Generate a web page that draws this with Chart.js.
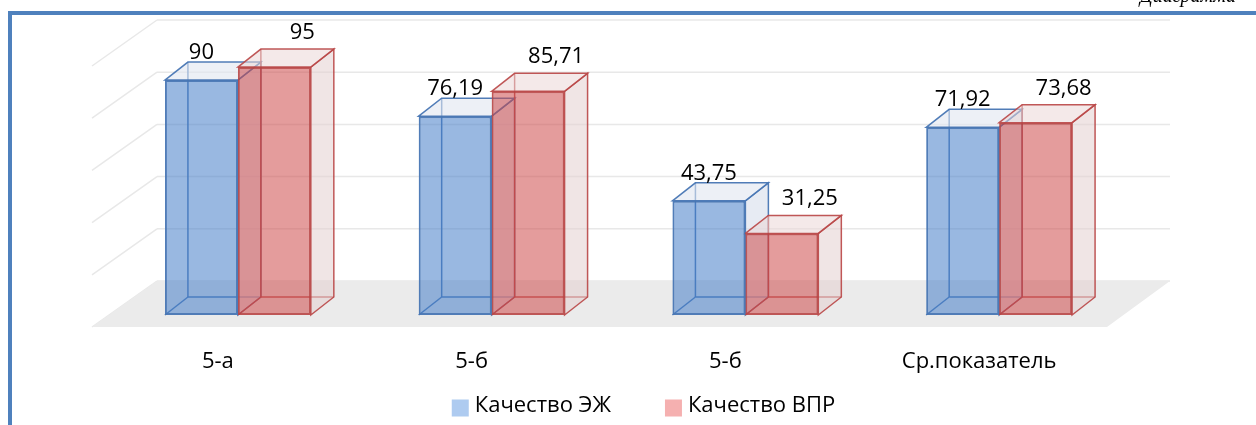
<!DOCTYPE html>
<html>
<head>
<meta charset="utf-8">
<script src="https://cdn.jsdelivr.net/npm/chart.js@4"></script>
<style>
html, body { margin: 0; padding: 0; background: #fff; overflow: hidden; }
#wrap { position: relative; width: 1256px; height: 425px; }
#frame { position: absolute; left: 8px; top: 11px; right: 0; bottom: 0; border-left: 4px solid #4f81bd; border-top: 4px solid #4f81bd; }
#cap { position: absolute; left: 1140px; top: -15px; font: italic 20px "Liberation Serif"; line-height: 20px; white-space: nowrap; }
canvas { position: absolute; left: 0; top: 0; }
</style>
</head>
<body>
<div id="wrap">
  <canvas id="barChart" width="1256" height="425"></canvas>
  <div id="frame"></div>
  <div id="cap">Диаграмма</div>
</div>
<script>
// data
var categories = ['5-а', '5-б', '5-б', 'Ср.показатель'];
var seriesNames = ['Качество ЭЖ', 'Качество ВПР'];
var qualityEJ = [90, 76.19, 43.75, 71.92];
var qualityVPR = [95, 85.71, 31.25, 73.68];
var yTicks = [0, 20, 40, 60, 80, 100];

// look
var FONT = '"Open Sans", sans-serif';
var BAR_DEPTH = { dx: 23, dy: -18 };
var WALL = { dx: 46, dy: -34, side: 65, drop: 46 };
var styles = [
    { fill: 'rgba(70,125,200,0.55)', border: 'rgba(72,118,180,0.95)', top: 'rgba(225,230,240,0.6)', side: 'rgba(215,222,235,0.6)', legend: '#aecbf0' },
    { fill: 'rgba(205,75,75,0.55)', border: 'rgba(185,70,70,0.9)', top: 'rgba(235,215,215,0.55)', side: 'rgba(228,208,208,0.55)', legend: '#f5b0b0' }
];

function fmt(v) {
    return String(v).replace('.', ',');
}

function poly(ctx, pts, fill, stroke) {
    ctx.beginPath();
    ctx.moveTo(pts[0][0], pts[0][1]);
    for (var i = 1; i < pts.length; i++) ctx.lineTo(pts[i][0], pts[i][1]);
    ctx.closePath();
    if (fill) { ctx.fillStyle = fill; ctx.fill(); }
    if (stroke) { ctx.strokeStyle = stroke; ctx.stroke(); }
}

function line(ctx, x1, y1, x2, y2, color) {
    ctx.beginPath();
    ctx.moveTo(x1, y1);
    ctx.lineTo(x2, y2);
    ctx.strokeStyle = color;
    ctx.stroke();
}

var scene3d = {
    id: 'scene3d',
    beforeDatasetsDraw: function (chart) {
        var ctx = chart.ctx, a = chart.chartArea, y = chart.scales.y;
        var backL = a.left + WALL.dx, backR = a.right + 44;
        ctx.save();
        // walls gridlines
        ctx.lineWidth = 1.5;
        yTicks.forEach(function (t) {
            var yb = y.getPixelForValue(t) + WALL.dy;
            line(ctx, backL, yb, backR, yb, '#e8e8e8');
            line(ctx, backL - WALL.side, yb + WALL.drop, backL, yb, '#e8e8e8');
        });
        // floor
        var y0 = y.getPixelForValue(0) + WALL.dy;
        poly(ctx, [[backL, y0], [backR, y0], [backR - 63, y0 + WALL.drop], [backL - WALL.side, y0 + WALL.drop]], '#ebebeb');

        // hidden parts of the boxes
        ctx.lineWidth = 1.5;
        var dx = BAR_DEPTH.dx, dy = BAR_DEPTH.dy;
        for (var j = 0; j < categories.length; j++) {
            for (var i = 0; i < chart.data.datasets.length; i++) {
                var bar = chart.getDatasetMeta(i).data[j];
                var s = styles[i];
                var x0 = bar.x - bar.width / 2, x1 = bar.x + bar.width / 2;
                var yt = bar.y, yb = bar.base;
                line(ctx, x0 + dx, yt + dy, x0 + dx, yb + dy, s.border);
                line(ctx, x0 + dx, yb + dy, x1 + dx, yb + dy, s.border);
                line(ctx, x0, yb, x0 + dx, yb + dy, s.border);
                poly(ctx, [[x1, yb], [x1 + dx, yb + dy], [x1 + dx, yt + dy], [x1, yt]], s.side, s.border);
                poly(ctx, [[x0, yt], [x0 + dx, yt + dy], [x1 + dx, yt + dy], [x1, yt]], s.top, s.border);
            }
        }
        ctx.restore();
    },
    afterDatasetsDraw: function (chart) {
        var ctx = chart.ctx;
        ctx.save();
        ctx.font = '22px ' + FONT;
        ctx.fillStyle = '#000';
        ctx.textAlign = 'center';
        ctx.textBaseline = 'alphabetic';
        chart.data.datasets.forEach(function (ds, i) {
            chart.getDatasetMeta(i).data.forEach(function (bar, j) {
                var backTop = bar.y + BAR_DEPTH.dy;
                var x = i === 0 ? bar.x : bar.x + 28;
                var gap = i === 0 ? 3 : 10;
                ctx.fillText(fmt(ds.data[j]), x, backTop - gap);
            });
        });
        // legend
        ctx.font = '22px ' + FONT;
        ctx.textAlign = 'left';
        ctx.textBaseline = 'middle';
        var box = 17, textGap = 6, itemGap = 54, cy = 408;
        var total = 0;
        seriesNames.forEach(function (n, i) {
            total += box + textGap + ctx.measureText(n).width + (i ? 0 : itemGap);
        });
        var lx = (chart.chartArea.left + chart.chartArea.right) / 2 + 25 - total / 2;
        seriesNames.forEach(function (n, i) {
            ctx.fillStyle = styles[i].legend;
            ctx.fillRect(lx, cy - box / 2, box, box);
            ctx.fillStyle = '#000';
            ctx.fillText(n, lx + box + textGap, cy - 2);
            lx += box + textGap + ctx.measureText(n).width + itemGap;
        });
        ctx.restore();
    }
};

var barChartCanvas = document.getElementById('barChart');
var barChart = new Chart(barChartCanvas, {
    type: 'bar',
    data: {
        labels: categories,
        datasets: [{
            label: seriesNames[0],
            data: qualityEJ,
            backgroundColor: styles[0].fill,
            borderColor: styles[0].border,
            borderWidth: 2,
            borderSkipped: false
        }, {
            label: seriesNames[1],
            data: qualityVPR,
            backgroundColor: styles[1].fill,
            borderColor: styles[1].border,
            borderWidth: 2,
            borderSkipped: false
        }]
    },
    options: {
        responsive: false,
        animation: false,
        layout: { padding: { left: 111, right: 130, top: 54, bottom: 50 } },
        categoryPercentage: 0.575,
        barPercentage: 1,
        plugins: {
            legend: { display: false },
            tooltip: { enabled: false }
        },
        scales: {
            x: {
                grid: { display: false, drawTicks: false },
                border: { display: false },
                ticks: { font: { family: FONT, size: 22 }, color: '#000', padding: 34, labelOffset: -20, maxRotation: 0 },
                afterFit: function (scale) { scale.height = 60; }
            },
            y: {
                display: false,
                min: 0,
                max: 100
            }
        }
    },
    plugins: [scene3d]
});
</script>
</body>
</html>
